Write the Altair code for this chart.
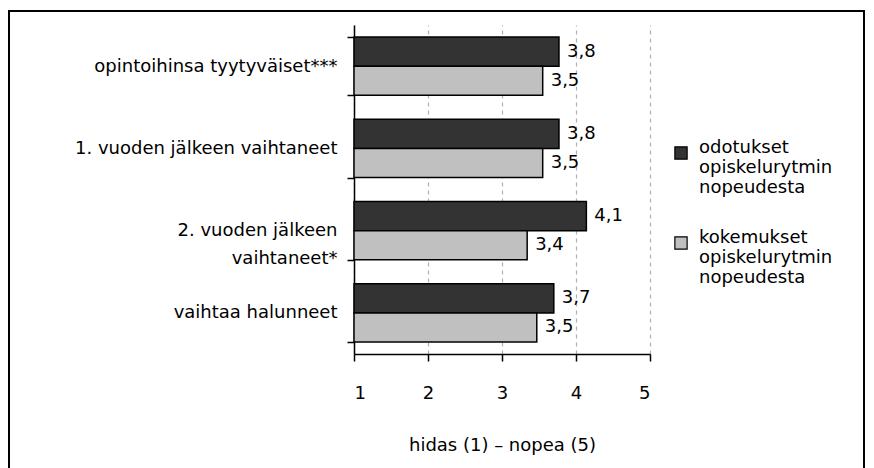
import altair as alt
import pandas as pd

FONT = "DejaVu Sans"

categories = [
    "opintoihinsa tyytyväiset***",
    "1. vuoden jälkeen vaihtaneet",
    "2. vuoden jälkeen|vaihtaneet*",
    "vaihtaa halunneet",
]
series = [
    "odotukset|opiskelurytmin|nopeudesta",
    "kokemukset|opiskelurytmin|nopeudesta",
]
expect_vals = [3.77, 3.77, 4.14, 3.70]
experience_vals = [3.55, 3.55, 3.34, 3.47]
expect_labels = ["3,8", "3,8", "4,1", "3,7"]
experience_labels = ["3,5", "3,5", "3,4", "3,5"]
x_ticks = [1, 2, 3, 4, 5]
colors = ["#333333", "#c0c0c0"]

rows = []
for c, v, l in zip(categories, expect_vals, expect_labels):
    rows.append({"cat": c, "series": series[0], "value": v, "label": l})
for c, v, l in zip(categories, experience_vals, experience_labels):
    rows.append({"cat": c, "series": series[1], "value": v, "label": l})
df = pd.DataFrame(rows)

y = alt.Y(
    "cat:N",
    sort=categories,
    scale=alt.Scale(paddingInner=0.29, paddingOuter=0.145),
    axis=alt.Axis(
        title=None,
        labelExpr="split(datum.label, '|')",
        labelFont=FONT,
        labelFontSize=18,
        labelColor="black",
        labelPadding=10,
        labelLineHeight=28,
        labelLimit=400,
        tickBand="extent",
        tickSize=7,
        tickColor="black",
        tickWidth=1.5,
        domainColor="black",
        domainWidth=1.5,
        grid=False,
    ),
)
yoff = alt.YOffset("series:N", sort=series, scale=alt.Scale(paddingInner=0, paddingOuter=0))
x = alt.X(
    "value:Q",
    scale=alt.Scale(domain=[1, 5], nice=False, zero=False),
    axis=alt.Axis(
        values=x_ticks,
        title="hidas (1) – nopea (5)",
        titleFont=FONT,
        titleFontSize=18,
        titleFontWeight="normal",
        titleColor="black",
        titlePadding=34,
        labelFont=FONT,
        labelFontSize=18,
        labelColor="black",
        labelPadding=23,
        tickSize=7,
        tickColor="black",
        tickWidth=1.5,
        domainColor="black",
        domainWidth=1.5,
        grid=True,
        gridDash=[4, 4],
        gridColor="#b0b0b0",
        gridWidth=1.2,
    ),
)

bars = alt.Chart(df).mark_bar(stroke="black", strokeWidth=1.5).encode(
    y=y,
    yOffset=yoff,
    x=x,
    x2=alt.datum(1),
    color=alt.Color(
        "series:N",
        sort=series,
        scale=alt.Scale(domain=series, range=colors),
        legend=alt.Legend(
            title=None,
            orient="none",
            legendX=318,
            legendY=119,
            labelExpr="split(datum.label, '|')",
            labelFont=FONT,
            labelFontSize=18,
            labelColor="black",
            labelBaseline="alphabetic",
            labelLimit=300,
            labelOffset=9,
            symbolType="square",
            symbolSize=150,
            symbolStrokeColor="black",
            symbolStrokeWidth=1.2,
            rowPadding=32,
        ),
    ),
)

texts = alt.Chart(df).mark_text(
    align="left", baseline="middle", dx=8, font=FONT, fontSize=18, color="black"
).encode(y=y, yOffset=yoff, x=x, text="label:N")

frame = alt.Chart(alt.Data(values=[{}])).mark_rect(
    filled=False, stroke="black", strokeWidth=2
).encode(
    x=alt.value(-345), x2=alt.value(510), y=alt.value(-14), y2=alt.value(480)
)

chart = alt.layer(bars, texts, frame).properties(
    width=296,
    height=329,
    padding={"left": 346, "top": 17, "right": 216, "bottom": 114},
    autosize="none",
    background="white",
).configure_view(stroke="transparent")

chart.save("out.html", embed_options={"renderer": "svg", "actions": False})
